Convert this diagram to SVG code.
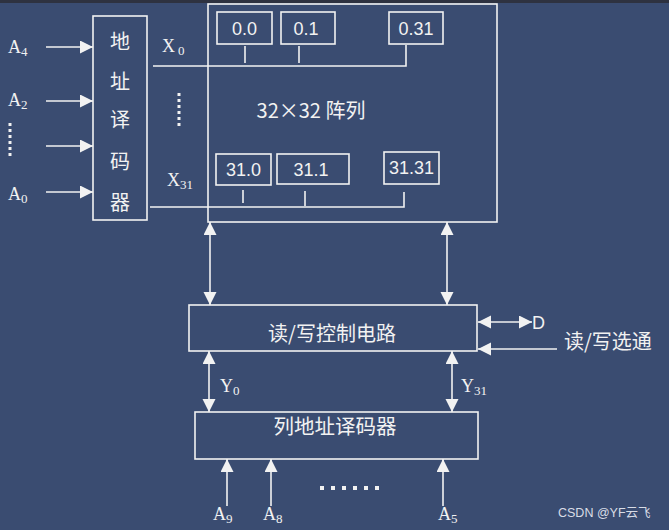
<svg xmlns="http://www.w3.org/2000/svg" width="669" height="530" viewBox="0 0 669 530">
<defs>
<marker id="ah" markerUnits="userSpaceOnUse" markerWidth="14" markerHeight="14" refX="13" refY="6.5" orient="auto-start-reverse">
<path d="M0,0 L13,6.5 L0,13 z" fill="#f2f2f2"/>
</marker>
</defs>
<style>
.ln{stroke:#f2f2f2;stroke-width:1.6;fill:none}
.bx{stroke:#f2f2f2;stroke-width:1.6;fill:none}
.ar{stroke:#f2f2f2;stroke-width:1.6;fill:none;marker-end:url(#ah)}
.ar2{stroke:#f2f2f2;stroke-width:1.6;fill:none;marker-end:url(#ah);marker-start:url(#ah)}
.cj{font-family:"Noto Sans CJK SC","Noto Sans",sans-serif;fill:#f2f2f2}
.sr{font-family:"Liberation Serif",serif;fill:#f2f2f2}
.ss{font-family:"Liberation Sans",sans-serif;fill:#f2f2f2}
.dot{stroke:#f2f2f2;stroke-width:3;stroke-dasharray:3 3}
</style>
<rect width="669" height="530" fill="#3a4c71"/>
<rect width="669" height="3" fill="#2e3240"/>

<g id="row-decoder">
<rect class="bx" x="93" y="16" width="54" height="204"/>
<text class="cj" font-size="20" text-anchor="middle" x="120" y="49">地</text>
<text class="cj" font-size="20" text-anchor="middle" x="120" y="89">址</text>
<text class="cj" font-size="20" text-anchor="middle" x="120" y="127">译</text>
<text class="cj" font-size="20" text-anchor="middle" x="120" y="169">码</text>
<text class="cj" font-size="20" text-anchor="middle" x="120" y="210">器</text>
</g>

<g id="inputs-left">
<text class="sr" font-size="18" x="8" y="53">A<tspan font-size="13" dy="3">4</tspan></text>
<text class="sr" font-size="18" x="8" y="106">A<tspan font-size="13" dy="3">2</tspan></text>
<line class="dot" x1="10" y1="123" x2="10" y2="156"/>
<text class="sr" font-size="18" x="8" y="200">A<tspan font-size="13" dy="3">0</tspan></text>
</g>

<g id="array">
<rect class="bx" x="208" y="4" width="289" height="218"/>
<text class="cj" font-size="20" text-anchor="middle" x="311" y="118">32×32 阵列</text>
</g>
<g id="cell-0-0"><rect class="bx" x="217" y="12" width="55" height="32"/><text class="ss" font-size="18" text-anchor="middle" x="244.5" y="35">0.0</text></g>
<g id="cell-0-1"><rect class="bx" x="281" y="12" width="54" height="32"/><text class="ss" font-size="18" text-anchor="middle" x="306" y="35">0.1</text></g>
<g id="cell-0-31"><rect class="bx" x="389" y="12" width="54" height="32"/><text class="ss" font-size="18" text-anchor="middle" x="416" y="35">0.31</text></g>
<g id="cell-31-0"><rect class="bx" x="216" y="154" width="55" height="31"/><text class="ss" font-size="18" text-anchor="middle" x="243.5" y="176">31.0</text></g>
<g id="cell-31-1"><rect class="bx" x="277" y="154" width="72" height="30"/><text class="ss" font-size="18" text-anchor="middle" x="311" y="176">31.1</text></g>
<g id="cell-31-31"><rect class="bx" x="384" y="152" width="55" height="32"/><text class="ss" font-size="18" text-anchor="middle" x="411.5" y="174">31.31</text></g>

<g id="rw-control">
<rect class="bx" x="189" y="305" width="288" height="46"/>
<text class="cj" font-size="20" text-anchor="middle" x="332" y="341">读/写控制电路</text>
</g>

<g id="col-decoder">
<rect class="bx" x="195" y="412" width="283" height="47"/>
<text class="cj" font-size="20.5" text-anchor="middle" x="335" y="434">列地址译码器</text>
</g>

<g id="connectors">
<line class="ar" x1="46" y1="47" x2="93" y2="47"/>
<line class="ar" x1="46" y1="101" x2="93" y2="101"/>
<line class="ar" x1="46" y1="146" x2="93" y2="146"/>
<line class="ar" x1="46" y1="192" x2="93" y2="192"/>
<polyline class="ln" points="153,66 406,66 406,45"/>
<line class="ln" x1="245" y1="46" x2="245" y2="63"/>
<line class="ln" x1="299" y1="46" x2="299" y2="63"/>
<polyline class="ln" points="150,207 404,207 404,192"/>
<line class="ln" x1="243" y1="190" x2="243" y2="203"/>
<line class="ln" x1="305" y1="191" x2="305" y2="206"/>
<line class="dot" x1="179" y1="93" x2="179" y2="129"/>
<line class="ar2" x1="210" y1="222" x2="210" y2="305"/>
<line class="ar2" x1="447" y1="222" x2="447" y2="305"/>
<line class="ar2" x1="478" y1="322" x2="532" y2="322"/>
<line class="ar" x1="557" y1="349" x2="478" y2="349"/>
<line class="ar2" x1="209" y1="351" x2="209" y2="412"/>
<line class="ar2" x1="452" y1="351" x2="452" y2="412"/>
<line class="ar" x1="227" y1="506" x2="227" y2="459"/>
<line class="ar" x1="271" y1="506" x2="271" y2="459"/>
<line class="ar" x1="443" y1="506" x2="443" y2="459"/>
</g>

<g id="labels">
<text class="sr" font-size="18" x="162" y="52">X<tspan font-size="13" dx="3" dy="3">0</tspan></text>
<text class="sr" font-size="18" x="167" y="186">X<tspan font-size="13" dy="3">31</tspan></text>
<text class="ss" font-size="18" x="532" y="329">D</text>
<text class="cj" font-size="20" x="564" y="349">读/写选通</text>
<text class="sr" font-size="18" x="220" y="392">Y<tspan font-size="13" dy="3">0</tspan></text>
<text class="sr" font-size="18" x="461" y="392">Y<tspan font-size="13" dy="3">31</tspan></text>
<text class="sr" font-size="18" x="213" y="520">A<tspan font-size="13" dy="3">9</tspan></text>
<text class="sr" font-size="18" x="263" y="520">A<tspan font-size="13" dy="3">8</tspan></text>
<text class="sr" font-size="18" x="438" y="520">A<tspan font-size="13" dy="3">5</tspan></text>
<line x1="320" y1="488" x2="380" y2="488" stroke="#f2f2f2" stroke-width="4" stroke-dasharray="4 7"/>
<text font-family="Liberation Sans, sans-serif" font-size="12.5" fill="#d8dce6" x="558" y="517">CSDN @YF<tspan font-family="Noto Sans CJK SC, sans-serif">云飞</tspan></text>
</g>
</svg>
